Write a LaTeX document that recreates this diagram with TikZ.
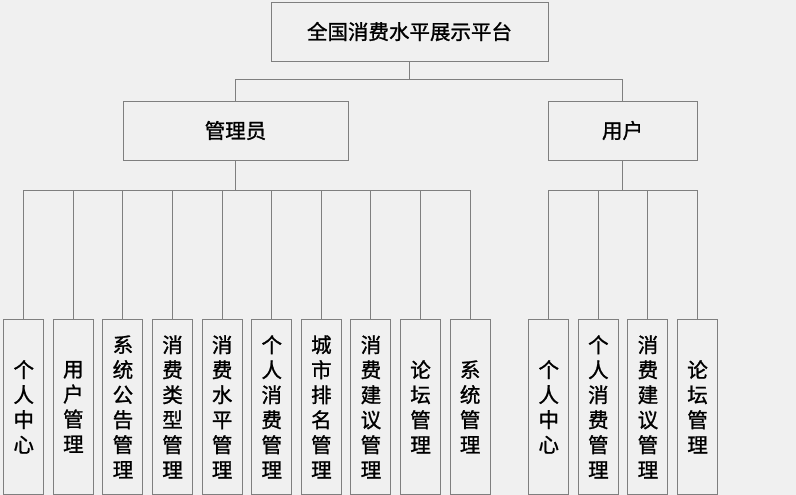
\documentclass[tikz,border=0pt]{standalone}
\usepackage{fontspec}
\setmainfont{Noto Sans CJK SC}[FakeBold=1.2]
\usepackage{tikz}
\usetikzlibrary{calc,positioning}
\definecolor{linegray}{HTML}{7F7F7F}
\definecolor{bggray}{HTML}{F0F0F0}

\tikzset{
  BoxStyle/.style = {draw=linegray, line width=0.8pt, fill=bggray,
    inner sep=0pt, font=\fontsize{20.5}{25}\selectfont},
  LeafStyle/.style = {BoxStyle, anchor=north, minimum width=40pt,
    minimum height=175pt, text width=20pt, align=center},
  EdgeStyle/.style = {draw=linegray, line width=0.8pt}
}

\begin{document}
\begin{tikzpicture}[x=1pt,y=-1pt]
    \fill[bggray] (0,0) rectangle (796,495);
    \useasboundingbox (0,0) rectangle (796,495);
    \node[BoxStyle, minimum width=277pt, minimum height=59pt] (top) at (409.5,31.5) {全国消费水平展示平台};
    \node[BoxStyle, minimum width=225pt, minimum height=59pt] (admin) at (235.5,130.5) {管理员};
    \node[BoxStyle, minimum width=149pt, minimum height=59pt] (user) at (622.5,130.5) {用户};
    \draw[EdgeStyle] (top.south) -- ++(0,18) coordinate (topbus);
    \draw[EdgeStyle] (topbus) -| (admin.north);
    \draw[EdgeStyle] (topbus) -| (user.north);
    % leaves of the admin
    \foreach \i/\txt in {0/{个\\人\\中\\心}, 1/{用\\户\\管\\理}, 2/{系\\统\\公\\告\\管\\理},
        3/{消\\费\\类\\型\\管\\理}, 4/{消\\费\\水\\平\\管\\理}, 5/{个\\人\\消\\费\\管\\理},
        6/{城\\市\\排\\名\\管\\理}, 7/{消\\费\\建\\议\\管\\理}, 8/{论\\坛\\管\\理}, 9/{系\\统\\管\\理}}{
      \node[LeafStyle] (a\i) at (23.5+49.6*\i,319) {\txt};
      \draw[EdgeStyle] (admin.south) -- ++(0,30) -| (a\i.north);
    }
    % leaves of the user
    \foreach \i/\txt in {0/{个\\人\\中\\心}, 1/{个\\人\\消\\费\\管\\理},
        2/{消\\费\\建\\议\\管\\理}, 3/{论\\坛\\管\\理}}{
      \node[LeafStyle] (u\i) at (548.5+49.6*\i,319) {\txt};
      \draw[EdgeStyle] (user.south) -- ++(0,30) -| (u\i.north);
    }
\end{tikzpicture}
\end{document}
